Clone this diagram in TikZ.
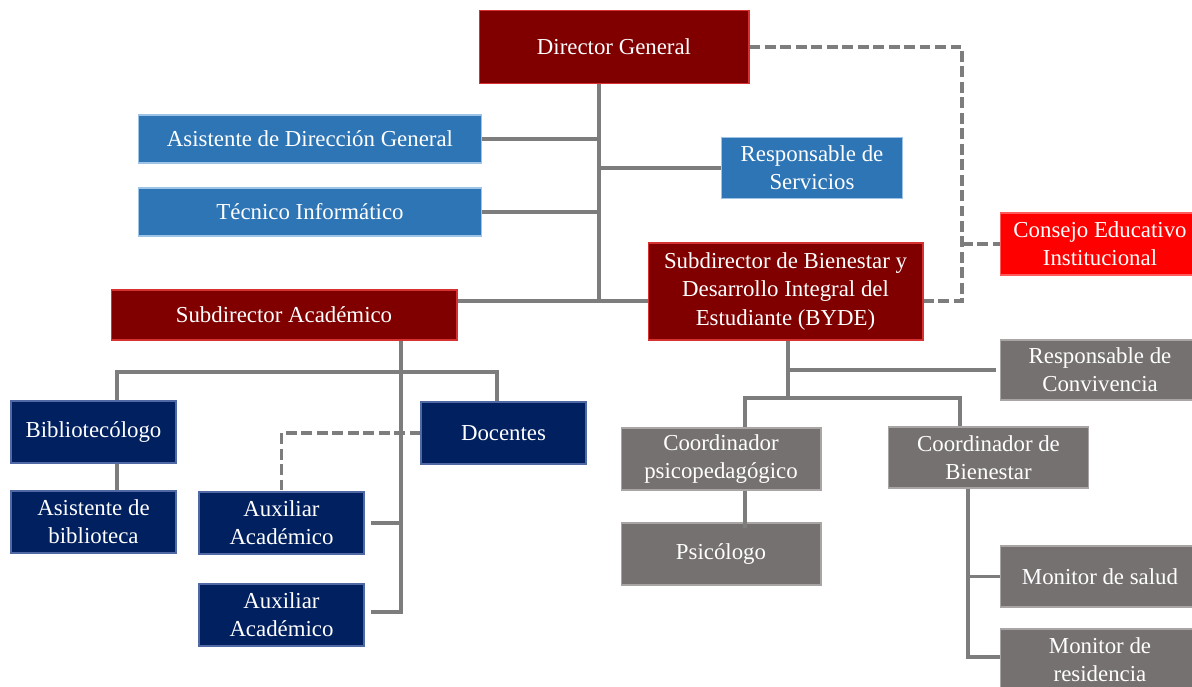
\documentclass[tikz,border=0pt]{standalone}
\usepackage{fontspec}
\setmainfont{Liberation Serif}
\usepackage{xcolor}
\usepackage{tikz}
\usetikzlibrary{positioning,calc}
\definecolor{dredfill}{RGB}{128,0,0}
\definecolor{dredline}{RGB}{215,50,50}
\definecolor{bluefill}{RGB}{46,117,182}
\definecolor{blueline}{RGB}{157,195,230}
\definecolor{navyfill}{RGB}{0,32,96}
\definecolor{navyline}{RGB}{80,105,165}
\definecolor{grayfill}{RGB}{118,113,113}
\definecolor{grayline}{RGB}{170,165,165}
\definecolor{redfill}{RGB}{255,0,0}
\definecolor{redline}{RGB}{255,90,90}
\definecolor{linkgray}{RGB}{125,125,125}

\begin{document}
\begin{tikzpicture}[x=0.02cm,y=-0.02cm,every node/.style={font=\fontsize{13}{16}\selectfont,text=white,align=center,inner sep=0pt},
  dredbox/.style={draw=dredline,fill=dredfill,line width=0.6pt},
  bluebox/.style={draw=blueline,fill=bluefill,line width=0.6pt},
  navybox/.style={draw=navyline,fill=navyfill,line width=0.6pt,minimum width=3.3cm,minimum height=1.24cm},
  graybox/.style={draw=grayline,fill=grayfill,line width=0.6pt},
  redbox/.style={draw=redline,fill=redfill,line width=0.6pt},
  link/.style={draw=linkgray,line width=2.1pt},
  dlink/.style={link,dash pattern=on 6.2pt off 2.6pt}]
\useasboundingbox (0,0) rectangle (1192,686);
% top level
\node[dredbox,minimum width=5.4cm,minimum height=1.46cm](dir) at (614,47){Director General};
\node[bluebox,minimum width=6.86cm,minimum height=0.96cm](asis) at (310,139){Asistente de Dirección General};
\node[bluebox,minimum width=6.86cm,minimum height=0.96cm](tec) at (310,212){Técnico Informático};
\node[bluebox,minimum width=3.62cm,minimum height=1.22cm](serv) at (812,168){Responsable de\\Servicios};
\node[redbox,minimum width=4.0cm,minimum height=1.24cm](cons) at (1100,244){Consejo Educativo\\Institucional};
\node[dredbox,minimum width=5.5cm,minimum height=1.94cm](bien) at (785.5,291.5){Subdirector de Bienestar y\\Desarrollo Integral del\\Estudiante (BYDE)};
\node[dredbox,minimum width=6.92cm,minimum height=1.0cm](acad) at (284,315){Subdirector Académico};
% academic branch
\node[navybox](bib) at (93.5,432){Bibliotecólogo};
\node[navybox](doc) at (503.5,433){Docentes};
\node[navybox](asbib) at (93.5,522){Asistente de\\biblioteca};
\node[navybox](aux1) at (281.5,523){Auxiliar\\Académico};
\node[navybox](aux2) at (281.5,615){Auxiliar\\Académico};
% welfare branch
\node[graybox,minimum width=4.0cm,minimum height=1.2cm](conv) at (1100,370){Responsable de\\Convivencia};
\node[graybox,minimum width=4.0cm,minimum height=1.24cm](psico) at (721,459){Coordinador\\psicopedagógico};
\node[graybox,minimum width=4.0cm,minimum height=1.22cm](cbien) at (988.5,457.5){Coordinador de\\Bienestar};
\node[graybox,minimum width=4.0cm,minimum height=1.24cm](psi) at (721,554){Psicólogo};
\node[graybox,minimum width=4.0cm,minimum height=1.22cm](msal) at (1100,576.5){Monitor de salud};
\node[graybox,minimum width=4.0cm,minimum height=1.22cm](mres) at (1100,659.5){Monitor de\\residencia};
% junction points
\coordinate (trunk) at (599,301); \coordinate (dbus) at (962,301);
\coordinate (abus) at (401,372); \coordinate (aend) at (401,612);
\coordinate (bl) at (117,372); \coordinate (dl) at (497,372);
\coordinate (bbus) at (788,398); \coordinate (pl) at (745,398); \coordinate (cl) at (960,398);
\coordinate (ml) at (968,657);
% connectors
\draw[link](dir.south-|trunk)--(trunk); \draw[link](asis.east)--(asis.east-|trunk); \draw[link](tec.east)--(tec.east-|trunk);
\draw[link](serv.west)--(serv.west-|trunk); \draw[link](acad.east|-trunk)--(bien.west|-trunk);
\draw[dlink](dir.east)-|(dbus)--(dbus-|bien.east); \draw[dlink](dbus|-cons.west)--(cons.west);
\draw[link](acad.south-|abus)--(aend)--([xshift=0.12cm]aend-|aux2.east); \draw[link]([xshift=0.12cm]aux1.east)--(aux1.east-|abus);
\draw[link](bib.north-|bl)--(bl)--(dl)--(doc.north-|dl); \draw[link](bib.south-|bl)--(asbib.north-|bl);
\draw[dlink](doc.west)-|(aux1.north);
\draw[link](bien.south-|bbus)--(bbus); \draw[link](conv.west-|bbus)--([xshift=-0.08cm]conv.west);
\draw[link](psico.north-|pl)--(pl)--(cl)--(cbien.north-|cl); \draw[link](psico.south-|pl)--([yshift=-0.12cm]psi.north-|pl);
\draw[link](cbien.south-|ml)--(ml)--(ml-|mres.west); \draw[link](msal.west-|ml)--(msal.west);
\end{tikzpicture}
\end{document}
